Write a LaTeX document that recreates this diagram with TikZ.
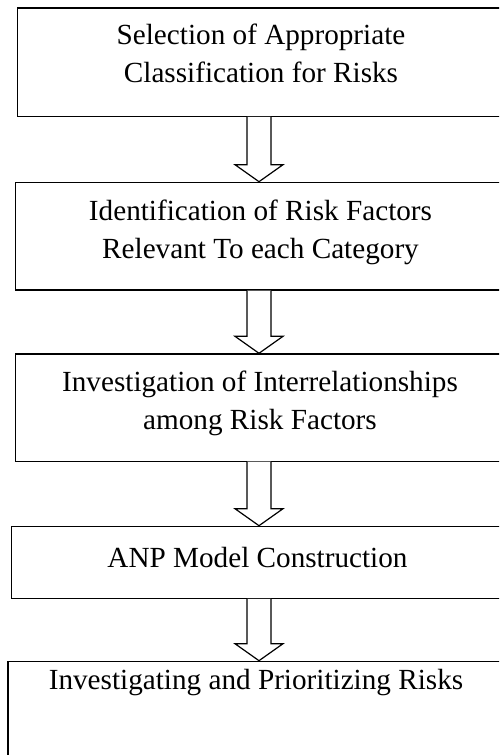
\documentclass[tikz,border=0pt]{standalone}
\usepackage{fontspec}
\setmainfont{Liberation Serif}
\usetikzlibrary{calc}
\begin{document}
\begin{tikzpicture}[x=1pt,y=-1pt,
  stepbox/.style={draw=black, line width=1.2pt, rectangle, anchor=north west, inner sep=0pt, fill=white},
  steptext/.style={font=\fontsize{29.2}{37.5}\selectfont, align=center, anchor=base, inner sep=0pt},
  blockarrow/.style={draw=black, line width=1.2pt, fill=white, line join=miter}]
\useasboundingbox (0,0) rectangle (499,755);
\clip (0,0) rectangle (499,755);
\coordinate (axis) at (259,0);
\node[stepbox, minimum width=488.3pt, minimum height=108.4pt] (b1) at (16.7,7.3) {};
\node[stepbox, minimum width=490.3pt, minimum height=107.6pt] (b2) at (14.7,181.7) {};
\node[stepbox, minimum width=490.3pt, minimum height=107.2pt] (b3) at (14.7,353.3) {};
\node[stepbox, minimum width=494pt, minimum height=72pt] (b4) at (11,525.7) {};
\node[stepbox, minimum width=497.7pt, minimum height=120pt] (b5) at (7.3,660.7) {};
\node[steptext] (t1) at (261,82) {Selection of Appropriate\\Classification for Risks};
\node[steptext] (t2) at (260.5,258) {Identification of Risk Factors\\Relevant To each Category};
\node[steptext] (t3) at (260,429) {Investigation of Interrelationships\\among Risk Factors};
\node[steptext] (t4) at (257.5,567) {ANP Model Construction};
\node[steptext] (t5) at (256,689) {Investigating and Prioritizing Risks};
\foreach \a/\b in {b1/b2,b2/b3,b3/b4,b4/b5}{
  \draw[blockarrow] let \p1=(\a.south -| axis), \p2=(\b.north -| axis) in
    (\x1-12pt,\y1) -- (\x1-12pt,\y2+17pt) -- (\x1-24pt,\y2+17pt) -- (\x2,\y2)
    -- (\x1+24pt,\y2+17pt) -- (\x1+12pt,\y2+17pt) -- (\x1+12pt,\y1);
}
\end{tikzpicture}
\end{document}
